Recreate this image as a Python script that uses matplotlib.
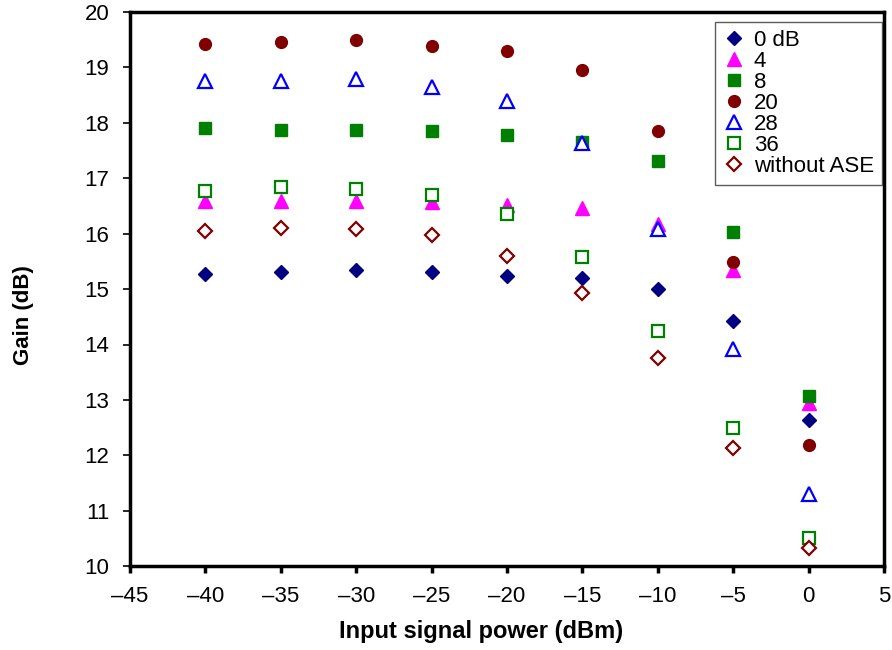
import matplotlib.pyplot as plt
import numpy as np

plt.rcParams['font.family'] = ['Liberation Sans', 'DejaVu Sans']

# Input signal power (dBm)
power = [-40, -35, -30, -25, -20, -15, -10, -5, 0]

# Gain (dB) for each series
gain_0 = [15.27, 15.31, 15.34, 15.31, 15.24, 15.20, 15.00, 14.42, 12.64]
gain_4 = [16.59, 16.59, 16.59, 16.57, 16.52, 16.46, 16.17, 15.34, 12.94]
gain_8 = [17.91, 17.87, 17.87, 17.85, 17.78, 17.65, 17.31, 16.03, 13.07]
gain_20 = [19.42, 19.46, 19.49, 19.39, 19.30, 18.95, 17.85, 15.49, 12.18]
gain_28 = [18.75, 18.75, 18.79, 18.65, 18.39, 17.64, 16.08, 13.92, 11.30]
gain_36 = [16.77, 16.84, 16.80, 16.70, 16.35, 15.58, 14.24, 12.49, 10.50]
gain_no_ase = [16.05, 16.10, 16.08, 15.97, 15.60, 14.93, 13.75, 12.13, 10.32]

fig = plt.figure(figsize=(8.92, 6.5), dpi=100)
ax = fig.add_axes([0.1457, 0.129, 0.8453, 0.8525])

ax.plot(power, gain_0, 'D', ms=7.5, color='#000080', ls='none', label='0 dB')
ax.plot(power, gain_4, '^', ms=9.5, color='#ff00ff', ls='none', label='4')
ax.plot(power, gain_8, 's', ms=8.5, color='#008000', ls='none', label='8')
ax.plot(power, gain_20, 'o', ms=8.5, color='#800000', ls='none', label='20')
ax.plot(power, gain_28, '^', ms=9.5, mfc='white', mec='#0000ff', mew=1.6,
        ls='none', label='28')
ax.plot(power, gain_36, 's', ms=8.5, mfc='white', mec='#008000', mew=1.6,
        ls='none', label='36')
ax.plot(power, gain_no_ase, 'D', ms=7.5, mfc='white', mec='#800000', mew=1.6,
        ls='none', label='without ASE')

ax.set_xlim(-45, 5)
ax.set_ylim(10, 20)
ax.set_xticks(np.arange(-45, 6, 5))
ax.set_yticks(np.arange(10, 21, 1))
ax.set_xticklabels([str(t).replace('-', '\u2013') for t in range(-45, 6, 5)])

for s in ax.spines.values():
    s.set_linewidth(2.5)
ax.tick_params(axis='both', labelsize=16, length=5, direction='out')
ax.tick_params(axis='x', pad=9, width=2.5)
ax.tick_params(axis='y', pad=10, width=1.2)

ax.set_xlabel('Input signal power (dBm)', fontsize=17, fontweight='bold')
ax.xaxis.set_label_coords(0.466, -0.098)
ax.set_ylabel('Gain (dB)', fontsize=16, fontweight='bold')
ax.yaxis.set_label_coords(-0.127, 0.453)

leg = ax.legend(loc='upper right', fontsize=16, frameon=True, fancybox=False,
                handlelength=1.0, handletextpad=0.4, labelspacing=0.0,
                borderpad=0.35, borderaxespad=0,
                bbox_to_anchor=(0.997, 0.982))
leg.get_frame().set_edgecolor('#333333')
leg.get_frame().set_linewidth(1.0)

fig.savefig('out.png', dpi=100)
